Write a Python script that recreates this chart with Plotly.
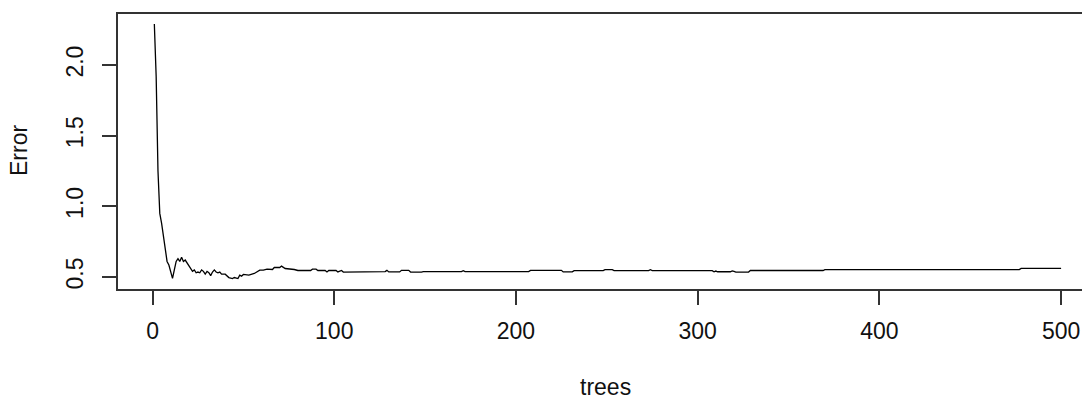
import plotly.graph_objects as go

# Random forest OOB error vs number of trees
trees = [1, 2, 3, 4, 5, 6, 7, 8, 9, 10, 11, 12, 13, 14, 15, 16, 17, 18, 19, 20,
         21, 22, 23, 24, 25, 26, 27, 28, 29, 30, 31, 32, 33, 34, 35, 36, 37, 38,
         40, 42, 44, 45, 47, 48, 49, 50, 53, 56, 59, 61, 63, 66, 67, 70, 71, 73,
         78, 80, 87, 88, 90, 91, 95, 96, 97, 101, 102, 104, 105, 109, 110, 128,
         129, 130, 136, 137, 141, 142, 148, 149, 170, 171, 172, 207, 208, 225,
         226, 231, 232, 248, 249, 253, 254, 273, 274, 275, 308, 309, 310, 311,
         318, 319, 320, 321, 328, 329, 369, 370, 418, 419, 420, 477, 478, 500]
error = [2.29, 1.92, 1.25, 0.95, 0.88, 0.776, 0.705, 0.61, 0.585, 0.54, 0.49,
         0.55, 0.61, 0.63, 0.61, 0.64, 0.61, 0.62, 0.60, 0.58, 0.565, 0.54,
         0.55, 0.53, 0.535, 0.53, 0.55, 0.54, 0.52, 0.54, 0.53, 0.51, 0.535,
         0.55, 0.535, 0.53, 0.535, 0.52,
         0.52, 0.496, 0.489, 0.496, 0.489, 0.513, 0.506, 0.518, 0.513, 0.525,
         0.548, 0.548, 0.555, 0.553, 0.567, 0.567, 0.577, 0.56, 0.553, 0.546,
         0.546, 0.555, 0.555, 0.546, 0.546, 0.536, 0.546, 0.546, 0.536, 0.546,
         0.535, 0.535, 0.538, 0.538,
         0.547, 0.536, 0.536, 0.547, 0.547, 0.535, 0.535, 0.538, 0.538, 0.545,
         0.538, 0.538, 0.547, 0.547, 0.536, 0.536, 0.545, 0.545, 0.552, 0.552,
         0.545, 0.545, 0.551, 0.545, 0.545, 0.537, 0.542, 0.537, 0.537, 0.543,
         0.540, 0.535, 0.535, 0.546, 0.546, 0.552, 0.552, 0.550, 0.552, 0.552,
         0.561, 0.561]

x_ticks = [0, 100, 200, 300, 400, 500]
y_ticks = [0.5, 1.0, 1.5, 2.0]
y_tick_text = ["0.5", "1.0", "1.5", "2.0"]
x_label = "trees"
y_label = "Error"

W, H = 1082, 400
ML, MR, MT, MB = 118, 0, 14, 111
FONT = "Liberation Sans, Arial, sans-serif"
AX = "#333333"
TXT = "#111111"

fig = go.Figure()
fig.add_trace(go.Scatter(x=trees, y=error, mode="lines",
                         line=dict(color="black", width=1.3),
                         hoverinfo="x+y", showlegend=False))

fig.update_layout(
    width=W, height=H,
    margin=dict(l=ML, r=MR, t=MT, b=MB, pad=0),
    paper_bgcolor="white", plot_bgcolor="white",
    font=dict(family=FONT, size=23, color=TXT),
    showlegend=False,
)
fig.update_xaxes(
    range=[-19.0, 511.5], tickvals=x_ticks,
    showgrid=False, zeroline=False,
    showline=True, linecolor=AX, linewidth=1.5, mirror=True,
    ticks="outside", ticklen=14, tickwidth=1.5, tickcolor=AX,
    ticklabelstandoff=7,
    tickfont=dict(family=FONT, size=23, color=TXT),
)
fig.update_yaxes(
    range=[0.415, 2.361], tickvals=y_ticks, ticktext=y_tick_text,
    tickangle=-90,
    showgrid=False, zeroline=False,
    showline=True, linecolor=AX, linewidth=1.5, mirror=False,
    ticks="outside", ticklen=14, tickwidth=1.5, tickcolor=AX,
    ticklabelstandoff=10,
    tickfont=dict(family=FONT, size=23, color=TXT),
)
plot_w = W - ML - MR
plot_h = H - MT - MB
fig.add_annotation(text=x_label, xref="paper", yref="paper",
                   x=(605 - ML) / plot_w, y=-(387 - (H - MB)) / plot_h,
                   xanchor="center", yanchor="middle", showarrow=False,
                   font=dict(family=FONT, size=23, color=TXT))
fig.add_annotation(text=y_label, xref="paper", yref="paper",
                   x=-(ML - 19) / plot_w, y=(H - MB - 151) / plot_h,
                   xanchor="center", yanchor="middle", showarrow=False,
                   textangle=-90,
                   font=dict(family=FONT, size=23, color=TXT))

fig.write_html("out.html")
